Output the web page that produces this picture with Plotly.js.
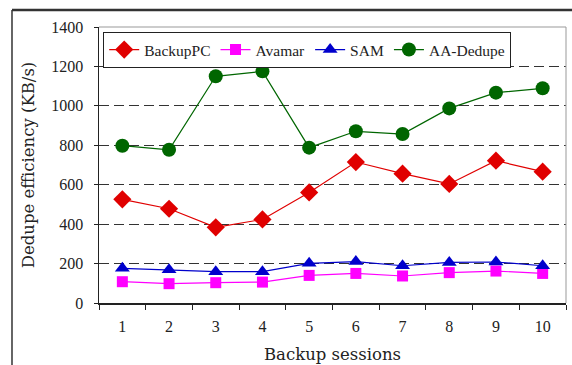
<!DOCTYPE html>
<html>
<head>
<meta charset="utf-8">
<script src="https://cdn.plot.ly/plotly-3.0.1.min.js"></script>
<style>html,body{margin:0;padding:0;background:#fff;}#chart{width:572px;height:365px;}</style>
</head>
<body>
<div id="chart"></div>
<script>
const sessions = ["1","2","3","4","5","6","7","8","9","10"];
const backupPC = [526, 478, 384, 424, 561, 715, 656, 604, 722, 666];
const avamar   = [108, 98, 103, 106, 140, 150, 137, 154, 162, 150];
const sam      = [176, 169, 159, 159, 201, 210, 189, 206, 208, 189];
const aaDedupe = [798, 777, 1150, 1175, 788, 871, 857, 987, 1067, 1089];
const yTicks = [0, 200, 400, 600, 800, 1000, 1200, 1400];

const font = "'Liberation Serif', 'DejaVu Serif', serif";
const titleFont = "'DejaVu Serif', 'Liberation Serif', serif";

const traces = [
  {x: sessions, y: backupPC, name: 'BackupPC', mode: 'lines+markers', type: 'scatter',
   line: {color: '#e00000', width: 1.2}, marker: {symbol: 'diamond', size: 14, color: '#e00000'}},
  {x: sessions, y: avamar, name: 'Avamar', mode: 'lines+markers', type: 'scatter',
   line: {color: '#ff00ff', width: 1.2}, marker: {symbol: 'square', size: 11, color: '#ff00ff'}},
  {x: sessions, y: sam, name: 'SAM', mode: 'lines+markers', type: 'scatter',
   line: {color: '#0000cc', width: 1.2}, marker: {symbol: 'triangle-up', size: 13, color: '#0000cc'}},
  {x: sessions, y: aaDedupe, name: 'AA-Dedupe', mode: 'lines+markers', type: 'scatter',
   line: {color: '#006600', width: 1.2}, marker: {symbol: 'circle', size: 14, color: '#006600'}}
];

const layout = {
  width: 572, height: 365,
  margin: {l: 99, r: 6, t: 27, b: 62},
  paper_bgcolor: '#fff', plot_bgcolor: '#fff',
  font: {family: font, size: 15, color: '#222'},
  showlegend: true,
  legend: {orientation: 'h', x: 0.009, y: 0.982, xanchor: 'left', yanchor: 'top',
           bordercolor: '#222', borderwidth: 1, bgcolor: '#fff',
           font: {family: font, size: 15.5, color: '#222'}, itemwidth: 30, tracegroupgap: 0},
  xaxis: {type: 'category', range: [-0.5, 9.5], tickson: 'boundaries',
          ticks: 'outside', ticklen: 5, tickcolor: '#222', showline: true, linecolor: '#222', linewidth: 1.5,
          showgrid: false, zeroline: false, tickfont: {size: 16}, ticklabelstandoff: 8,
          title: {text: 'Backup sessions', font: {family: titleFont, size: 16.5}, standoff: 14}},
  yaxis: {range: [0, 1400], tickvals: yTicks, ticks: 'outside', ticklen: 4, tickcolor: '#222',
          showline: true, linecolor: '#222', linewidth: 1.5,
          showgrid: true, gridcolor: '#333', griddash: '10px,5px', gridwidth: 1, zeroline: false,
          tickfont: {size: 16}, ticklabelstandoff: 7,
          title: {text: 'Dedupe efficiency (KB/s)', font: {family: titleFont, size: 16.5}, standoff: 12}},
  shapes: [
    {type: 'line', xref: 'paper', yref: 'paper', x0: 1, x1: 1, y0: 0, y1: 1, line: {color: '#999', width: 1}},
    {type: 'line', xref: 'paper', yref: 'paper', x0: 0, x1: 1, y0: 1, y1: 1, line: {color: '#999', width: 1}},
    {type: 'line', xref: 'paper', yref: 'paper', x0: -0.1863, x1: 1.02, y0: 1.0616, y1: 1.0616, line: {color: '#333', width: 2.5}},
    {type: 'line', xref: 'paper', yref: 'paper', x0: -0.1863, x1: -0.1863, y0: 1.0616, y1: -0.23, line: {color: '#333', width: 1.5}}
  ]
};

Plotly.newPlot('chart', traces, layout, {displayModeBar: false, staticPlot: true});
</script>
</body>
</html>
